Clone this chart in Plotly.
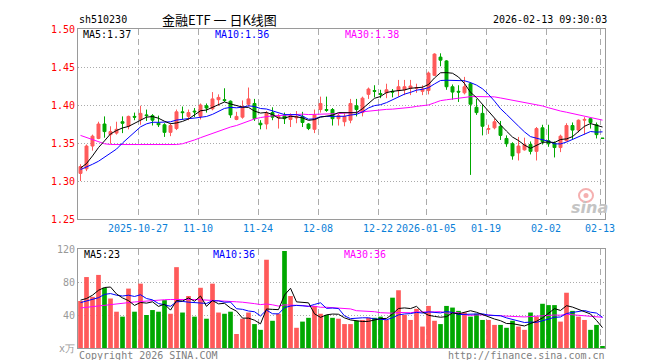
import plotly.graph_objects as go

# ---------------- data ----------------
dates = [
    "2025-10-13", "2025-10-14", "2025-10-15", "2025-10-16", "2025-10-17",
    "2025-10-20", "2025-10-21", "2025-10-22", "2025-10-23", "2025-10-24",
    "2025-10-27", "2025-10-28", "2025-10-29", "2025-10-30", "2025-10-31",
    "2025-11-03", "2025-11-04", "2025-11-05", "2025-11-06", "2025-11-07",
    "2025-11-10", "2025-11-11", "2025-11-12", "2025-11-13", "2025-11-14",
    "2025-11-17", "2025-11-18", "2025-11-19", "2025-11-20", "2025-11-21",
    "2025-11-24", "2025-11-25", "2025-11-26", "2025-11-27", "2025-11-28",
    "2025-12-01", "2025-12-02", "2025-12-03", "2025-12-04", "2025-12-05",
    "2025-12-08", "2025-12-09", "2025-12-10", "2025-12-11", "2025-12-12",
    "2025-12-15", "2025-12-16", "2025-12-17", "2025-12-18", "2025-12-19",
    "2025-12-22", "2025-12-23", "2025-12-24", "2025-12-25", "2025-12-26",
    "2025-12-29", "2025-12-30", "2025-12-31",
    "2026-01-05", "2026-01-06", "2026-01-07", "2026-01-08", "2026-01-09",
    "2026-01-12", "2026-01-13", "2026-01-14", "2026-01-15", "2026-01-16",
    "2026-01-19", "2026-01-20", "2026-01-21", "2026-01-22", "2026-01-23",
    "2026-01-26", "2026-01-27", "2026-01-28", "2026-01-29", "2026-01-30",
    "2026-02-02", "2026-02-03", "2026-02-04", "2026-02-05", "2026-02-06",
    "2026-02-09", "2026-02-10", "2026-02-11", "2026-02-12", "2026-02-13",
]

open_ = [1.310, 1.316, 1.346, 1.356, 1.375, 1.361, 1.363, 1.378, 1.372, 1.385,
         1.381, 1.387, 1.386, 1.376, 1.374, 1.364, 1.369, 1.391, 1.385, 1.392,
         1.385, 1.399, 1.395, 1.407, 1.407, 1.405, 1.381, 1.384, 1.401, 1.402,
         1.376, 1.375, 1.390, 1.383, 1.386, 1.381, 1.383, 1.385, 1.375, 1.368,
         1.394, 1.394, 1.394, 1.382, 1.378, 1.380, 1.399, 1.390, 1.414, 1.419,
         1.415, 1.416, 1.418, 1.419, 1.420, 1.422, 1.422, 1.418, 1.419, 1.439,
         1.463, 1.458, 1.424, 1.418, 1.416, 1.428, 1.397, 1.389, 1.368, 1.370,
         1.372, 1.356, 1.349, 1.337, 1.341, 1.348, 1.339, 1.370, 1.353, 1.350,
         1.344, 1.353, 1.373, 1.367, 1.380, 1.382, 1.374, 1.3565]
high = [1.322, 1.348, 1.361, 1.378, 1.385, 1.372, 1.378, 1.385, 1.386, 1.390,
        1.399, 1.394, 1.388, 1.386, 1.376, 1.376, 1.394, 1.398, 1.394, 1.396,
        1.402, 1.402, 1.417, 1.414, 1.422, 1.406, 1.391, 1.406, 1.423, 1.408,
        1.380, 1.392, 1.397, 1.388, 1.390, 1.389, 1.392, 1.391, 1.376, 1.394,
        1.411, 1.411, 1.396, 1.389, 1.389, 1.408, 1.408, 1.411, 1.423, 1.426,
        1.420, 1.428, 1.421, 1.433, 1.433, 1.433, 1.428, 1.426, 1.444, 1.468,
        1.468, 1.459, 1.427, 1.426, 1.437, 1.430, 1.408, 1.400, 1.374, 1.382,
        1.379, 1.360, 1.351, 1.358, 1.357, 1.352, 1.371, 1.374, 1.374, 1.352,
        1.361, 1.376, 1.377, 1.381, 1.384, 1.382, 1.377, 1.3565]
low = [1.300, 1.313, 1.340, 1.355, 1.357, 1.349, 1.361, 1.363, 1.368, 1.380,
       1.374, 1.379, 1.373, 1.371, 1.358, 1.359, 1.367, 1.381, 1.380, 1.384,
       1.381, 1.390, 1.393, 1.399, 1.404, 1.383, 1.380, 1.382, 1.398, 1.379,
       1.368, 1.368, 1.380, 1.369, 1.375, 1.371, 1.376, 1.371, 1.367, 1.363,
       1.390, 1.391, 1.373, 1.373, 1.372, 1.376, 1.385, 1.385, 1.408, 1.410,
       1.409, 1.409, 1.410, 1.411, 1.413, 1.413, 1.416, 1.413, 1.414, 1.438,
       1.451, 1.420, 1.407, 1.404, 1.414, 1.308, 1.387, 1.360, 1.362, 1.368,
       1.354, 1.345, 1.328, 1.327, 1.340, 1.335, 1.327, 1.348, 1.345, 1.331,
       1.338, 1.352, 1.355, 1.364, 1.361, 1.369, 1.356, 1.356]
close = [1.319, 1.346, 1.359, 1.375, 1.365, 1.365, 1.368, 1.376, 1.385, 1.384,
         1.389, 1.386, 1.380, 1.374, 1.364, 1.373, 1.391, 1.390, 1.390, 1.391,
         1.400, 1.396, 1.408, 1.410, 1.406, 1.387, 1.385, 1.398, 1.408, 1.382,
         1.374, 1.389, 1.384, 1.385, 1.382, 1.386, 1.385, 1.377, 1.369, 1.387,
         1.402, 1.393, 1.382, 1.386, 1.385, 1.402, 1.394, 1.409, 1.421, 1.418,
         1.414, 1.420, 1.417, 1.424, 1.424, 1.425, 1.423, 1.421, 1.442, 1.467,
         1.459, 1.424, 1.417, 1.417, 1.424, 1.401, 1.390, 1.372, 1.369, 1.378,
         1.360, 1.349, 1.333, 1.346, 1.348, 1.339, 1.369, 1.352, 1.349, 1.344,
         1.359, 1.373, 1.367, 1.380, 1.381, 1.377, 1.361, 1.356]
volume = [57, 86, 62, 88.6, 73, 60, 44, 38, 72, 44,
          78, 40, 46, 44, 58, 41.5, 98, 43, 63, 38,
          73, 35.5, 78, 43, 41.5, 44, 17, 35.5, 43, 29,
          22, 107, 33, 41.5, 117.6, 63, 24.5, 32, 36.6, 51,
          41.5, 40, 36.6, 35.5, 29, 29, 33, 34, 36.6, 36.6,
          38, 34, 61, 70, 40, 34, 47.5, 26, 51, 33,
          29, 51, 49, 45, 43, 38, 41.5, 34, 34, 28,
          28, 24.5, 33, 26, 22, 43, 38, 53.6, 52, 52,
          32, 67, 45, 38, 34, 22, 28, 1.6]

# moving-average values at the start of the window (read from the chart,
# they depend on sessions before the first visible one)
ma5_head = [1.317, 1.323, 1.333, 1.344]
ma10_head = [1.315, 1.318, 1.322, 1.326, 1.331, 1.336, 1.342, 1.350, 1.357]
ma30_head = [1.360, 1.357, 1.354, 1.351, 1.349, 1.348, 1.348, 1.348, 1.348, 1.348,
             1.348, 1.348, 1.348, 1.348, 1.348, 1.348, 1.348, 1.349, 1.351, 1.354,
             1.357, 1.360, 1.363, 1.366, 1.369, 1.371, 1.373, 1.376, 1.378]
vma5_head = [58, 60, 64, 70]
vma10_head = [55, 57, 59, 61, 65, 66, 64, 63, 64]
vma30_head = [48.5, 49.2, 50, 51, 52, 52.8, 53.5, 54.2, 55, 55.8,
              56.5, 57, 57.5, 58, 58.5, 58.8, 59, 59, 59, 58.8,
              58.5, 58.2, 58, 57.5, 57, 56.5, 56, 55.5, 55]

tick_dates = ["2025-10-27", "2025-11-10", "2025-11-24", "2025-12-08", "2025-12-22",
              "2026-01-05", "2026-01-19", "2026-02-02", "2026-02-13"]
tick_labels = ["2025-10-27", "11-10", "11-24", "12-08", "12-22",
               "2026-01-05", "01-19", "02-02", "02-13"]
price_ticks = [1.25, 1.30, 1.35, 1.40, 1.45, 1.50]
vol_ticks = [0, 40, 80, 120]
vol_tick_labels = ["x万", "40", "80", "120"]

# ---------------- helpers ----------------
def moving_average(vals, n, head):
    out = list(head)
    for i in range(len(head), len(vals)):
        out.append(sum(vals[i - n + 1:i + 1]) / n)
    return out

idx = list(range(len(dates)))
ma5 = moving_average(close, 5, ma5_head)
ma10 = moving_average(close, 10, ma10_head)
ma30 = moving_average(close, 30, ma30_head)
vma5 = moving_average(volume, 5, vma5_head)
vma10 = moving_average(volume, 10, vma10_head)
vma30 = moving_average(volume, 30, vma30_head)

RED = "#FF5A5A"
GREEN = "#00A800"
BLUE = "#0000FF"
MAG = "#FF00FF"
GRID = "#ababab"
BORDER = "#9a9a9a"
MONO = "DejaVu Sans Mono"

W, H = 660, 360
ML, MR, MT, MB = 70, 63, 21, 20
PW, PH = W - ML - MR, H - MT - MB


def px_x(px):
    return (px - ML) / PW


def px_y(py):
    return (H - MB - py) / PH


tickpos = [dates.index(d) - 0.417 for d in tick_dates]
xr = [-0.417, len(dates) - 1 + 0.417]

fig = go.Figure()
fig.add_trace(go.Candlestick(
    x=idx, open=open_, high=high, low=low, close=close,
    increasing=dict(line=dict(color=RED, width=1), fillcolor=RED),
    decreasing=dict(line=dict(color=GREEN, width=1), fillcolor=GREEN),
    xaxis="x", yaxis="y", showlegend=False, hoverinfo="skip"))
for vals, col in ((ma30, MAG), (ma10, BLUE), (ma5, "#000000")):
    fig.add_trace(go.Scatter(x=idx, y=vals, mode="lines",
                             line=dict(color=col, width=1),
                             xaxis="x", yaxis="y", showlegend=False, hoverinfo="skip"))

bar_colors = [RED if c >= o else GREEN for o, c in zip(open_, close)]
fig.add_trace(go.Bar(x=idx, y=volume, width=0.78, marker=dict(color=bar_colors, line=dict(width=0)),
                     xaxis="x2", yaxis="y2", showlegend=False, hoverinfo="skip"))
for vals, col in ((vma30, MAG), (vma10, BLUE), (vma5, "#000000")):
    fig.add_trace(go.Scatter(x=idx, y=vals, mode="lines",
                             line=dict(color=col, width=1),
                             xaxis="x2", yaxis="y2", showlegend=False, hoverinfo="skip"))

top_bottom = px_y(211)
vol_top = px_y(241)

common_x = dict(range=xr, tickmode="array", tickvals=tickpos, showgrid=True,
                gridcolor=GRID, griddash="6px,4px", gridwidth=1, zeroline=False,
                showline=True, linecolor=BORDER, linewidth=1, mirror=True, ticks="",
                fixedrange=True)
fig.update_layout(
    width=W, height=H,
    margin=dict(l=ML, r=MR, t=MT, b=MB),
    paper_bgcolor="white", plot_bgcolor="white",
    showlegend=False, hovermode=False,
    xaxis=dict(domain=[0, 1], anchor="y", ticktext=tick_labels,
               tickfont=dict(family=MONO, size=10, color="#0a80d8"),
               rangeslider=dict(visible=False), **common_x),
    yaxis=dict(domain=[top_bottom, 1], range=[1.25, 1.50], tickmode="array",
               tickvals=price_ticks, ticktext=["%.2f" % v for v in price_ticks],
               tickfont=dict(family=MONO, size=10, color="#FF0000"),
               showgrid=True, gridcolor=GRID, griddash="1px,2px", gridwidth=1,
               zeroline=False, showline=True, linecolor=BORDER, linewidth=1,
               mirror=True, ticks="", fixedrange=True),
    xaxis2=dict(domain=[0, 1], anchor="y2", showticklabels=False, **common_x),
    yaxis2=dict(domain=[0, vol_top], range=[0, 120], tickmode="array",
                tickvals=vol_ticks, ticktext=vol_tick_labels,
                tickfont=dict(family=MONO, size=10, color="#999999"),
                showgrid=True, gridcolor=GRID, griddash="1px,2px", gridwidth=1,
                zeroline=False, showline=True, linecolor=BORDER, linewidth=1,
                mirror=True, ticks="", fixedrange=True),
)


def note(text, px, py, anchor="left", color="#000000", size=10, family=MONO, **kw):
    fig.add_annotation(text=text, x=px_x(px), y=px_y(py), xref="paper", yref="paper",
                       xanchor=anchor, yanchor="middle", showarrow=False,
                       font=dict(family=family, size=size, color=color), **kw)


note("sh510230", 69, 12)
note("金融ETF 一 日K线图", 211, 12, anchor="center", size=13, family="Noto Sans CJK SC")
note("2026-02-13 09:30:03", 601, 12, anchor="right")
note("MA5:1.37", 73, 27)
note("MA10:1.36", 205, 27, color=BLUE)
note("MA30:1.38", 335, 27, color=MAG)
note("MA5:23", 74, 246)
note("MA10:36", 203, 246, color=BLUE)
note("MA30:36", 334, 246, color=MAG)
note("Copyright 2026 SINA.COM", 69, 347, color="#808080")
note("http://finance.sina.com.cn", 599, 347, anchor="right", color="#808080")
note("<b><i>sina</i></b>", 581, 199, anchor="center", color="#c4c4c4", size=16,
     family="DejaVu Sans")

# sina "eye" logo drawn as shapes (watermark)
fig.add_shape(type="circle", xref="paper", yref="paper",
              x0=px_x(571), x1=px_x(585), y0=px_y(194), y1=px_y(181),
              line=dict(color="#f5b0b0", width=2), fillcolor="rgba(0,0,0,0)")
fig.add_shape(type="circle", xref="paper", yref="paper",
              x0=px_x(575.5), x1=px_x(580.5), y0=px_y(190), y1=px_y(185),
              line=dict(width=0), fillcolor="#f5b0b0")

fig.write_html("out.html")
